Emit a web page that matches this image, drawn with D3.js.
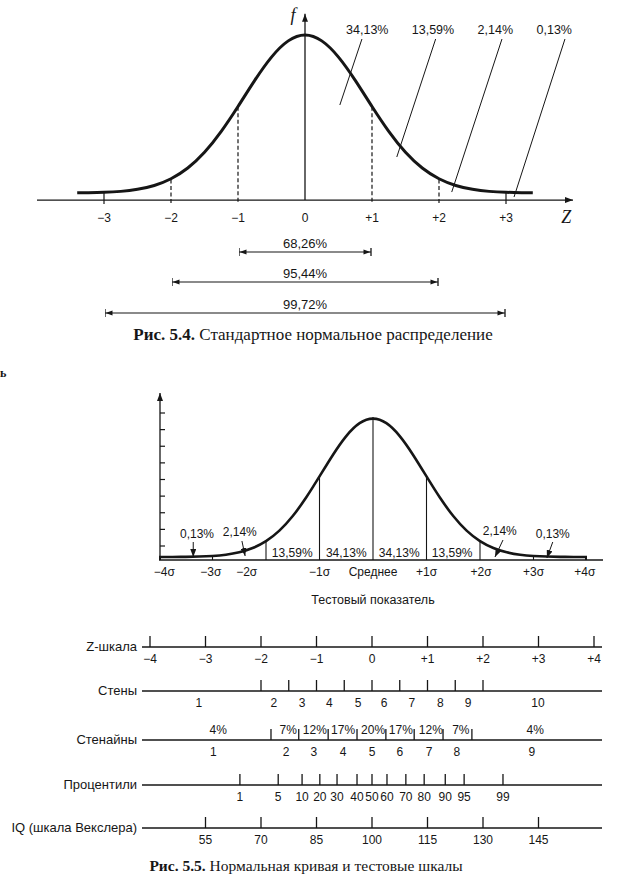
<!DOCTYPE html>
<html><head><meta charset="utf-8">
<script src="https://cdn.jsdelivr.net/npm/d3@7"></script>
<style>body{margin:0;background:#fff} svg{display:block}</style>
</head><body><svg id="c" width="623" height="891"></svg>
<script>
// ===== Рис. 5.4 =====
const fig1CurveZ = [-3.4,-3.25,-3,-2.75,-2.5,-2.25,-2,-1.75,-1.5,-1.25,-1,-0.75,-0.5,-0.25,0,0.25,0.5,0.75,1,1.25,1.5,1.75,2,2.25,2.5,2.75,3,3.25,3.4];
const fig1CurveF = [0.001,0.002,0.004,0.009,0.021,0.044,0.085,0.151,0.249,0.381,0.539,0.707,0.857,0.962,1,0.962,0.857,0.707,0.539,0.381,0.249,0.151,0.085,0.044,0.021,0.009,0.004,0.002,0.001];
const fig1Ticks = [-3,-2,-1,0,1,2,3];
const fig1TickLabels = ["−3","−2","−1","0","+1","+2","+3"];
const fig1DashedAt = [-2,-1,1,2];
const fig1SolidAt = [-3,3];
const fig1AreaLabels = ["34,13%","13,59%","2,14%","0,13%"];
const fig1LabelZ = [0.93,1.91,2.84,3.72];
const fig1LeaderTopZ = [0.85,1.95,2.94,3.88];
const fig1LeaderBotZ = [0.52,1.37,2.19,3.12];
const fig1LeaderBotF = [0.55,0.225,0.006,-0.025];
const fig1BracketLabels = ["68,26%","95,44%","99,72%"];
const fig1BracketHalf = [1,2,3];

// ===== Рис. 5.5 curve =====
const fig2CurveZ = [-4,-3.75,-3.5,-3.25,-3,-2.75,-2.5,-2.25,-2,-1.75,-1.5,-1.25,-1,-0.75,-0.5,-0.25,0,0.25,0.5,0.75,1,1.25,1.5,1.75,2,2.25,2.5,2.75,3,3.25,3.5,3.75,4];
const fig2CurveF = [0,0,0.001,0.003,0.007,0.015,0.031,0.061,0.109,0.183,0.288,0.421,0.575,0.732,0.871,0.966,1,0.966,0.871,0.732,0.575,0.421,0.288,0.183,0.109,0.061,0.031,0.015,0.007,0.003,0.001,0,0];
const fig2Dividers = [-2,-1,0,1,2];
const fig2SmallTicks = [-3,3];
const fig2YTicks = [1,2,3,4,5,6,7,8,9];
const fig2SigmaLabels = ["−4σ","−3σ","−2σ","−1σ","Среднее","+1σ","+2σ","+3σ","+4σ"];
const fig2SigmaLabelZ = [-3.9,-3.03,-2.36,-1,0,1,2.02,3.0,3.96];
const fig2SegLabels = ["13,59%","34,13%","34,13%","13,59%"];
const fig2SegZ = [-1.51,-0.5,0.49,1.48];
const fig2TailLabels = ["0,13%","2,14%","2,14%","0,13%"];
const fig2TailLabelZ = [-3.29,-2.49,2.37,3.36];
const fig2TailArrowFromZ = [-3.36,-2.45,2.43,3.36];
const fig2TailArrowToZ = [-3.36,-2.39,2.28,3.25];

// ===== Рис. 5.5 scales =====
const rowLabels = ["Z-шкала","Стены","Стенайны","Процентили","IQ (шкала Векслера)"];
const zTicks = [-4,-3,-2,-1,0,1,2,3,4];
const zTickLabels = ["−4","−3","−2","−1","0","+1","+2","+3","+4"];
const stenTicks = [-2,-1.5,-1,-0.5,0,0.5,1,1.5,2];
const stenLabels = ["1","2","3","4","5","6","7","8","9","10"];
const stenLabelZ = [-3.12,-1.77,-1.26,-0.77,-0.25,0.22,0.72,1.23,1.73,2.99];
const stanineTicks = [-1.82,-1.32,-0.79,-0.27,0.25,0.76,1.28,1.8];
const staninePct = ["4%","7%","12%","17%","20%","17%","12%","7%","4%"];
const staninePctZ = [-2.77,-1.51,-1.03,-0.52,0.02,0.52,1.06,1.6,2.94];
const stanineLabels = ["1","2","3","4","5","6","7","8","9"];
const stanineLabelZ = [-2.86,-1.55,-1.05,-0.52,0,0.5,1.03,1.53,2.88];
const pctLabels = ["1","5","10","20","30","40","50","60","70","80","90","95","99"];
const pctZ = [-2.38,-1.69,-1.26,-0.94,-0.63,-0.27,0,0.27,0.61,0.94,1.32,1.66,2.36];
const iqLabels = ["55","70","85","100","115","130","145"];
const iqZ = [-3,-2,-1,0,1,2,3];

const INK = "#161616";
const SANS = "'Liberation Sans', Arial, Helvetica, sans-serif";
const SERIF = "'Liberation Serif', 'Times New Roman', serif";

const svg = d3.select("#c");
const defs = svg.append("defs");
defs.append("marker").attr("id","arr").attr("viewBox","0 0 8 6").attr("refX",8).attr("refY",3)
  .attr("markerWidth",8).attr("markerHeight",6).attr("markerUnits","userSpaceOnUse").attr("orient","auto")
  .append("path").attr("d","M0,0L8,3L0,6Z").attr("fill",INK);
const bm = defs.append("marker").attr("id","brk").attr("viewBox","0 0 9 9").attr("refX",8.5).attr("refY",4.5)
  .attr("markerWidth",9).attr("markerHeight",9).attr("markerUnits","userSpaceOnUse").attr("orient","auto-start-reverse");
bm.append("path").attr("d","M1,2L8,4.5L1,7Z").attr("fill",INK);
bm.append("line").attr("x1",8.5).attr("x2",8.5).attr("y1",0.5).attr("y2",8.5).attr("stroke",INK).attr("stroke-width",1.3);
defs.append("marker").attr("id","tarr").attr("viewBox","0 0 8 6").attr("refX",8).attr("refY",3)
  .attr("markerWidth",8).attr("markerHeight",6).attr("markerUnits","userSpaceOnUse").attr("orient","auto")
  .append("path").attr("d","M0,0L8,3L0,6Z").attr("fill",INK);

// scan remnant letter at the left edge
svg.append("text").attr("x",0).attr("y",377).attr("font-family",SERIF).attr("font-weight","bold")
  .attr("font-size",12).attr("fill",INK).text("ь");

// ---------- Figure 5.4 ----------
const g1 = svg.append("g");
const x1 = d3.scaleLinear().domain([-1,1]).range([238,372]);
const y1 = d3.scaleLinear().domain([0,1]).range([193,33]);
const axisY1 = y1(-0.044);
const f1 = z => fig1CurveF[fig1CurveZ.indexOf(z)];

g1.append("line").attr("x1",x1(-4)).attr("x2",x1(4)).attr("y1",axisY1).attr("y2",axisY1)
  .attr("stroke",INK).attr("stroke-width",1.3).attr("marker-end","url(#arr)");
g1.append("line").attr("x1",x1(0)).attr("x2",x1(0)).attr("y1",axisY1).attr("y2",y1(1.12))
  .attr("stroke",INK).attr("stroke-width",1.3).attr("marker-end","url(#arr)");
g1.append("text").attr("x",x1(-0.18)).attr("y",y1(1.075)).attr("font-family",SERIF).attr("font-style","italic")
  .attr("font-size",18).attr("fill",INK).attr("text-anchor","middle").text("f");

g1.selectAll(".dash").data(fig1DashedAt).join("line")
  .attr("x1",d=>x1(d)).attr("x2",d=>x1(d)).attr("y1",d=>y1(f1(d))).attr("y2",axisY1+4)
  .attr("stroke",INK).attr("stroke-width",1.2).attr("stroke-dasharray","4,2.5");
g1.selectAll(".solid").data(fig1SolidAt).join("line")
  .attr("x1",d=>x1(d)).attr("x2",d=>x1(d)).attr("y1",d=>y1(f1(d))).attr("y2",axisY1+4)
  .attr("stroke",INK).attr("stroke-width",1.2);

const line1 = d3.line().x((d,i)=>x1(fig1CurveZ[i])).y(d=>y1(d)).curve(d3.curveBasis);
g1.append("path").attr("d",line1(fig1CurveF)).attr("fill","none").attr("stroke",INK).attr("stroke-width",3);

g1.selectAll(".tl").data(fig1Ticks).join("text")
  .attr("x",d=>x1(d)).attr("y",axisY1+22).attr("text-anchor","middle").attr("font-family",SANS)
  .attr("font-size",12).attr("fill",INK).text((d,i)=>fig1TickLabels[i]);
g1.append("text").attr("x",x1(3.9)).attr("y",axisY1+23).attr("text-anchor","middle").attr("font-family",SERIF)
  .attr("font-style","italic").attr("font-size",18).attr("fill",INK).text("Z");

g1.selectAll(".ld").data(fig1AreaLabels).join("line")
  .attr("x1",(d,i)=>x1(fig1LeaderTopZ[i])).attr("y1",y1(0.9625))
  .attr("x2",(d,i)=>x1(fig1LeaderBotZ[i])).attr("y2",(d,i)=>y1(fig1LeaderBotF[i]))
  .attr("stroke",INK).attr("stroke-width",1);
g1.selectAll(".al").data(fig1AreaLabels).join("text")
  .attr("x",(d,i)=>x1(fig1LabelZ[i])).attr("y",y1(0.995)).attr("text-anchor","middle")
  .attr("font-family",SANS).attr("font-size",12.5).attr("fill",INK).text(d=>d);

const brY = [252,282,313];
fig1BracketLabels.forEach((lab,i)=>{
  const h = fig1BracketHalf[i];
  g1.append("line").attr("x1",x1(-h)+1).attr("x2",x1(h)-1).attr("y1",brY[i]).attr("y2",brY[i])
    .attr("stroke",INK).attr("stroke-width",1.2).attr("marker-start","url(#brk)").attr("marker-end","url(#brk)");
  g1.append("text").attr("x",x1(0)).attr("y",brY[i]-4).attr("text-anchor","middle")
    .attr("font-family",SANS).attr("font-size",13).attr("fill",INK).text(lab);
});
const cap1 = svg.append("text").attr("x",313).attr("y",340).attr("text-anchor","middle")
  .attr("font-family",SERIF).attr("font-size",17).attr("fill",INK);
cap1.append("tspan").attr("font-weight","bold").text("Рис. 5.4.");
cap1.append("tspan").text(" Стандартное нормальное распределение");

// ---------- Figure 5.5 curve ----------
const g2 = svg.append("g");
const x2 = d3.scaleLinear().domain([-1,1]).range([319.5,426.5]);
const y2 = d3.scaleLinear().domain([0,1]).range([557,417]);
const base2 = y2(-0.0215);
const f2 = z => fig2CurveF[fig2CurveZ.indexOf(z)];
const yTick2 = d3.scaleLinear().domain([1,9]).range([546,413]);

g2.append("line").attr("x1",160).attr("x2",160).attr("y1",base2).attr("y2",393)
  .attr("stroke",INK).attr("stroke-width",1.3).attr("marker-end","url(#arr)");
g2.selectAll(".yt").data(fig2YTicks).join("line")
  .attr("x1",160).attr("x2",165).attr("y1",d=>yTick2(d)).attr("y2",d=>yTick2(d))
  .attr("stroke",INK).attr("stroke-width",1.2);
g2.append("line").attr("x1",x2(-4)).attr("x2",603).attr("y1",base2).attr("y2",base2)
  .attr("stroke",INK).attr("stroke-width",1.3);
g2.selectAll(".dv").data(fig2Dividers).join("line")
  .attr("x1",d=>x2(d)).attr("x2",d=>x2(d)).attr("y1",base2).attr("y2",d=>y2(f2(d)))
  .attr("stroke",INK).attr("stroke-width",1.1);
g2.selectAll(".st").data(fig2SmallTicks).join("line")
  .attr("x1",d=>x2(d)).attr("x2",d=>x2(d)).attr("y1",base2).attr("y2",base2-5)
  .attr("stroke",INK).attr("stroke-width",1.1);
const line2 = d3.line().x((d,i)=>x2(fig2CurveZ[i])).y(d=>y2(d)).curve(d3.curveBasis);
g2.append("path").attr("d",line2(fig2CurveF)).attr("fill","none").attr("stroke",INK).attr("stroke-width",2.6);
g2.append("rect").attr("x",x2(-4)).attr("y",base2-3).attr("width",2).attr("height",3).attr("fill",INK);
g2.append("rect").attr("x",x2(4)-2).attr("y",base2-3).attr("width",2).attr("height",3).attr("fill",INK);

g2.selectAll(".sl").data(fig2SigmaLabels).join("text")
  .attr("x",(d,i)=>x2(fig2SigmaLabelZ[i])).attr("y",base2+16).attr("text-anchor","middle")
  .attr("font-family",SANS).attr("font-size",12).attr("fill",INK).text(d=>d);
g2.selectAll(".sg").data(fig2SegLabels).join("text")
  .attr("x",(d,i)=>x2(fig2SegZ[i])).attr("y",base2-3).attr("text-anchor","middle")
  .attr("font-family",SANS).attr("font-size",12).attr("fill",INK).text(d=>d);
g2.selectAll(".tlab").data(fig2TailLabels).join("text")
  .attr("x",(d,i)=>x2(fig2TailLabelZ[i])).attr("y",(d,i)=>[538,536,535,538][i]).attr("text-anchor","middle")
  .attr("font-family",SANS).attr("font-size",12).attr("fill",INK).text(d=>d);
g2.selectAll(".tarr").data(fig2TailLabels).join("line")
  .attr("x1",(d,i)=>x2(fig2TailArrowFromZ[i])).attr("y1",(d,i)=>[542,541,540,542][i])
  .attr("x2",(d,i)=>x2(fig2TailArrowToZ[i])).attr("y2",(d,i)=>[557,556,557,558][i])
  .attr("stroke",INK).attr("stroke-width",1).attr("marker-end","url(#tarr)");
g2.append("text").attr("x",x2(0)).attr("y",604).attr("text-anchor","middle")
  .attr("font-family",SANS).attr("font-size",12.5).attr("fill",INK).text("Тестовый показатель");

// ---------- Figure 5.5 scales ----------
const g3 = svg.append("g");
const x3 = d3.scaleLinear().domain([-1,1]).range([316.5,427.5]);
const rowY = [647,691,740,785,828];
const LX0 = 142, LX1 = 602;
rowLabels.forEach((lab,i)=>{
  g3.append("line").attr("x1",LX0).attr("x2",LX1).attr("y1",rowY[i]).attr("y2",rowY[i])
    .attr("stroke",INK).attr("stroke-width",1.3);
  g3.append("text").attr("x",137).attr("y",rowY[i]+4).attr("text-anchor","end")
    .attr("font-family",SANS).attr("font-size",13).attr("fill",INK).text(lab);
});
function ticks(arr, y){
  g3.selectAll(null).data(arr).join("line")
    .attr("x1",d=>x3(d)).attr("x2",d=>x3(d)).attr("y1",y-11).attr("y2",y)
    .attr("stroke",INK).attr("stroke-width",1.3);
}
function labels(arr, zs, y){
  g3.selectAll(null).data(arr).join("text")
    .attr("x",(d,i)=>x3(zs[i])).attr("y",y).attr("text-anchor","middle")
    .attr("font-family",SANS).attr("font-size",12).attr("fill",INK).text(d=>d);
}
ticks(zTicks, rowY[0]);
labels(zTickLabels, zTicks, rowY[0]+16);
ticks(stenTicks, rowY[1]);
labels(stenLabels, stenLabelZ, rowY[1]+16);
ticks(stanineTicks, rowY[2]);
labels(staninePct, staninePctZ, rowY[2]-6);
labels(stanineLabels, stanineLabelZ, rowY[2]+16);
ticks(pctZ, rowY[3]);
labels(pctLabels, pctZ, rowY[3]+16);
ticks(iqZ, rowY[4]);
labels(iqLabels, iqZ, rowY[4]+16);

const cap2 = svg.append("text").attr("x",306).attr("y",871).attr("text-anchor","middle")
  .attr("font-family",SERIF).attr("font-size",15.5).attr("fill",INK);
cap2.append("tspan").attr("font-weight","bold").text("Рис. 5.5.");
cap2.append("tspan").text(" Нормальная кривая и тестовые шкалы");
</script></body></html>
